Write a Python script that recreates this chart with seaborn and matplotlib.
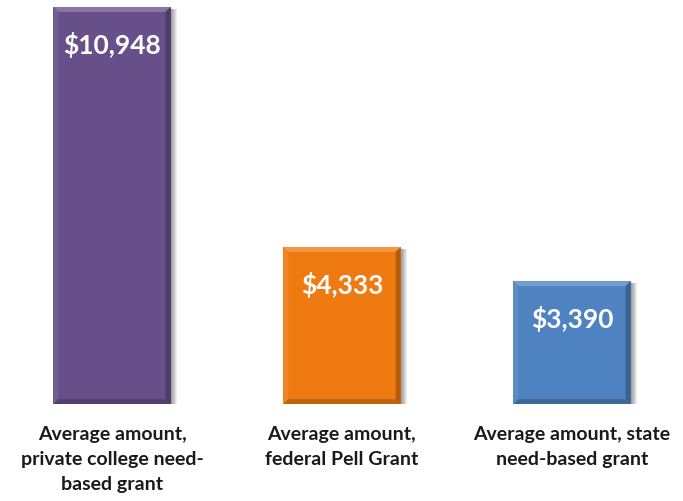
import matplotlib
matplotlib.use("Agg")
import matplotlib.pyplot as plt
import matplotlib.colors as mcolors
from matplotlib.patches import Polygon
import seaborn as sns
import pandas as pd

categories = [
    "Average amount,\nprivate college need-\nbased grant",
    "Average amount,\nfederal Pell Grant",
    "Average amount, state\nneed-based grant",
]
values = [10948, 4333, 3390]
value_labels = ["$10,948", "$4,333", "$3,390"]
colors = ["#67508A", "#F07A12", "#4F82C0"]

sns.set_theme(style="white")
plt.rcParams["font.family"] = ["Lato", "DejaVu Sans"]

df = pd.DataFrame({"category": categories, "value": values})

fig = plt.figure(figsize=(6.83, 5.02), dpi=100)
ax = fig.add_axes([0, 0.193, 1, 0.807])
sns.barplot(data=df, x="category", y="value", hue="category", palette=colors,
            width=0.51, legend=False, ax=ax, saturation=1, zorder=3)

ax.set_xlim(-0.487, 2.483)
ax.set_ylim(0, 11169)
ax.axis("off")

to_data = ax.transData.inverted()


def shade(c, f):
    r, g, b = mcolors.to_rgb(c)
    if f >= 0:
        return (r + (1 - r) * f, g + (1 - g) * f, b + (1 - b) * f)
    return (r * (1 + f), g * (1 + f), b * (1 + f))


bev = 5  # bevel width in pixels
for patch, col, lab in zip(ax.patches, colors, value_labels):
    patch.set_edgecolor("none")
    x0, y0 = patch.get_x(), patch.get_y()
    x1, y1 = x0 + patch.get_width(), y0 + patch.get_height()
    (px0, py0), (px1, py1) = ax.transData.transform([(x0, y0), (x1, y1)])

    def poly(pts, fc, z=4, alpha=1.0):
        d = to_data.transform(pts)
        ax.add_patch(Polygon(d, closed=True, facecolor=fc, edgecolor="none",
                             zorder=z, alpha=alpha))

    # soft drop shadow at right and bottom
    for k in range(1, 7):
        poly([(px0 + 2, py0 - k), (px1 + k, py0 - k), (px1 + k, py1 - 2),
              (px1, py1 - 2), (px1, py0), (px0 + 2, py0)], "black", z=2, alpha=0.07)

    # bevelled edges
    poly([(px0, py1), (px1, py1), (px1 - bev, py1 - bev), (px0 + bev, py1 - bev)],
         shade(col, 0.22))
    poly([(px0, py0), (px0, py1), (px0 + bev, py1 - bev), (px0 + bev, py0 + bev)],
         shade(col, 0.08))
    poly([(px1, py0), (px1, py1), (px1 - bev, py1 - bev), (px1 - bev, py0 + bev)],
         shade(col, -0.25))
    poly([(px0, py0), (px1, py0), (px1 - bev, py0 + bev), (px0 + bev, py0 + bev)],
         shade(col, -0.20))

    # value label inside the top of the bar
    ty = to_data.transform([(0, py1 - 37)])[0][1]
    ax.text(patch.get_x() + patch.get_width() / 2, ty, lab, ha="center", va="center",
            color="white", fontsize=19, fontweight="bold", zorder=6)

# category labels beneath each bar
for i, cat in enumerate(categories):
    ax.text(i, -580, cat, ha="center", va="top", fontsize=14, fontweight="bold",
            color="#1a1a1a", linespacing=1.55, transform=ax.transData, clip_on=False)

fig.savefig("out.png", dpi=100)
